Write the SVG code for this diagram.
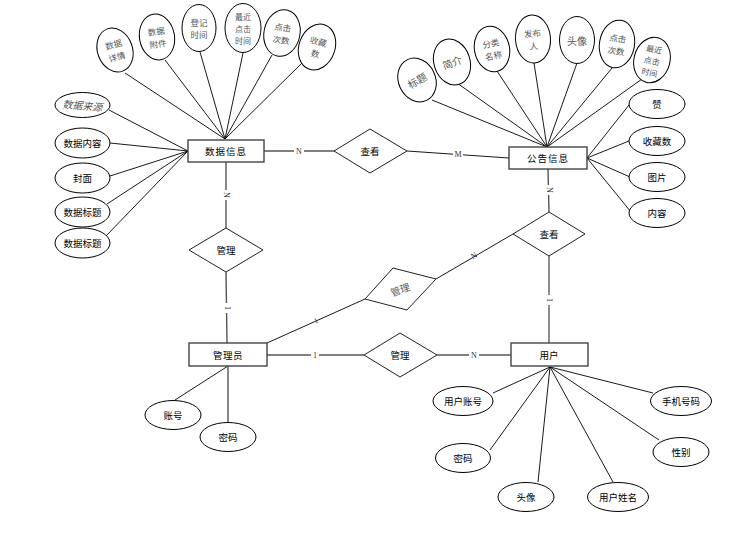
<svg xmlns="http://www.w3.org/2000/svg" width="745" height="541" viewBox="0 0 745 541">
<style>
.bg{fill:#fff}
.e{fill:#fff;stroke:#000;stroke-width:1}
.r{fill:#fff;stroke:#444;stroke-width:1.4}
.d{fill:#fff;stroke:#222;stroke-width:1}
.t{font-family:"Noto Sans CJK SC","Noto Sans",sans-serif;font-size:9.5px;fill:#000;text-anchor:middle;dominant-baseline:central}
.g{font-family:"Noto Sans CJK SC","Noto Sans",sans-serif;font-size:10px;fill:#555;text-anchor:middle;dominant-baseline:central}
.m{font-family:"Noto Sans CJK SC","Noto Sans",sans-serif;font-size:8.5px;fill:#555;text-anchor:middle;dominant-baseline:central}
.m3{font-family:"Noto Sans CJK SC","Noto Sans",sans-serif;font-size:8px;fill:#555;text-anchor:middle;dominant-baseline:central}
.l{stroke:#000;stroke-width:0.9;fill:none}
.rl{stroke:#555;stroke-width:1.4;fill:none}
.lb{font-family:"Liberation Serif",serif;font-size:8px;fill:#333;text-anchor:middle;dominant-baseline:central}
</style>
<rect class="bg" width="745" height="541"/>
<g id="connectors">
<line class="l" x1="125" y1="73" x2="225" y2="139"/>
<line class="l" x1="165" y1="60" x2="225" y2="139"/>
<line class="l" x1="200" y1="52" x2="225" y2="139"/>
<line class="l" x1="243" y1="53" x2="225" y2="139"/>
<line class="l" x1="272" y1="55" x2="225" y2="139"/>
<line class="l" x1="302" y1="63" x2="225" y2="139"/>
<line class="l" x1="109" y1="110" x2="188" y2="151"/>
<line class="l" x1="110" y1="143" x2="188" y2="151"/>
<line class="l" x1="110" y1="176" x2="188" y2="151"/>
<line class="l" x1="107" y1="204" x2="188" y2="151"/>
<line class="l" x1="106" y1="236" x2="188" y2="151"/>
<line class="l" x1="432" y1="100" x2="547" y2="147"/>
<line class="l" x1="457" y1="83" x2="547" y2="147"/>
<line class="l" x1="497" y1="71" x2="547" y2="147"/>
<line class="l" x1="534" y1="63" x2="547" y2="147"/>
<line class="l" x1="577" y1="63" x2="547" y2="147"/>
<line class="l" x1="612" y1="68" x2="547" y2="147"/>
<line class="l" x1="642" y1="79" x2="547" y2="147"/>
<line class="l" x1="629" y1="105" x2="587" y2="158"/>
<line class="l" x1="629" y1="141" x2="587" y2="158"/>
<line class="l" x1="630" y1="177" x2="587" y2="158"/>
<line class="l" x1="631" y1="212" x2="587" y2="158"/>
<line class="l" x1="228" y1="366" x2="175" y2="400"/>
<line class="rl" x1="228" y1="366" x2="228" y2="423"/>
<line class="l" x1="550" y1="367" x2="493" y2="393"/>
<line class="l" x1="550" y1="367" x2="490" y2="450"/>
<line class="l" x1="550" y1="367" x2="538" y2="482"/>
<line class="l" x1="550" y1="367" x2="613" y2="482"/>
<line class="l" x1="550" y1="367" x2="659" y2="440"/>
<line class="l" x1="550" y1="367" x2="653" y2="393"/>
<line class="rl" x1="264" y1="151" x2="334" y2="151"/>
<line class="l" x1="407" y1="151" x2="509" y2="158"/>
<line class="rl" x1="226" y1="162" x2="226" y2="228"/>
<line class="rl" x1="226" y1="272" x2="227" y2="343"/>
<line class="l" x1="267" y1="343" x2="365" y2="299"/>
<line class="l" x1="436" y1="279" x2="513" y2="234"/>
<line class="rl" x1="267" y1="355" x2="364" y2="355"/>
<line class="rl" x1="437" y1="355" x2="511" y2="355"/>
<line class="rl" x1="548" y1="169" x2="549" y2="212"/>
<line class="l" x1="549" y1="256" x2="549" y2="343"/>
<g fill="#fff" stroke="none">
<rect x="294" y="147" width="10" height="8"/>
<rect x="453" y="150" width="10" height="8"/>
<rect x="222" y="190" width="8" height="10"/>
<rect x="222" y="303" width="8" height="10"/>
<rect x="311" y="351" width="8" height="8"/>
<rect x="469" y="351" width="10" height="8"/>
<rect x="545" y="185" width="8" height="10"/>
<rect x="545" y="295" width="8" height="10"/>
</g>
<text class="lb" x="299" y="151">N</text>
<text class="lb" x="458" y="154">M</text>
<text class="lb" x="226" y="195" transform="rotate(90 226 195)">N</text>
<text class="lb" x="227" y="308" transform="rotate(90 227 308)">1</text>
<text class="lb" x="316" y="321" transform="rotate(-24 316 321)">1</text>
<text class="lb" x="474" y="256" transform="rotate(-30 474 256)">N</text>
<text class="lb" x="315" y="355">1</text>
<text class="lb" x="474" y="355">N</text>
<text class="lb" x="549" y="190" transform="rotate(90 549 190)">N</text>
<text class="lb" x="549" y="300" transform="rotate(90 549 300)">1</text>
</g>
<g id="data-info"><rect class="r" x="188" y="140" width="76" height="22"/><text class="t" x="226" y="151" letter-spacing="1">数据信息</text></g>
<g id="notice-info"><rect class="r" x="509" y="147" width="78" height="22"/><text class="t" x="548" y="158" letter-spacing="1">公告信息</text></g>
<g id="admin"><rect class="r" x="189" y="343" width="78" height="23"/><text class="t" x="228" y="355" letter-spacing="0.5">管理员</text></g>
<g id="user"><rect class="r" x="511" y="343" width="77" height="23"/><text class="t" x="549" y="355">用户</text></g>
<g id="rel-view-top"><polygon class="d" points="334,151 370,129 407,151 370,173"/><text class="t" x="370" y="151">查看</text></g>
<g id="rel-manage-left"><polygon class="d" points="189,250 226,228 263,250 226,272"/><text class="t" x="226" y="250">管理</text></g>
<g id="rel-manage-bottom"><polygon class="d" points="364,355 400,333 437,355 400,377"/><text class="t" x="400" y="355">管理</text></g>
<g id="rel-view-right"><polygon class="d" points="513,234 549,212 585,234 549,256"/><text class="t" x="549" y="234">查看</text></g>
<g id="rel-manage-tilt"><polygon class="d" points="365,299 393,268 436,279 407,310"/><text class="g" x="400" y="289" transform="rotate(-20 400 289)">管理</text></g>
<g id="attr-sjxq"><ellipse class="e" cx="115" cy="50" rx="17.5" ry="22.5" transform="rotate(-20 115 50)"/><text class="m" transform="rotate(-15 115 50)"><tspan x="115" y="43.7">数据</tspan><tspan x="115" y="56.3">详情</tspan></text></g>
<g id="attr-sjfj"><ellipse class="e" cx="157" cy="37" rx="17.5" ry="23" transform="rotate(-10 157 37)"/><text class="m" transform="rotate(-8 157 37)"><tspan x="157" y="30.7">数据</tspan><tspan x="157" y="43.3">附件</tspan></text></g>
<g id="attr-djsj"><ellipse class="e" cx="199" cy="28" rx="17" ry="23.5"/><text class="m"><tspan x="199" y="21.7">登记</tspan><tspan x="199" y="34.3">时间</tspan></text></g>
<g id="attr-zjdjsj"><ellipse class="e" cx="243" cy="28" rx="18" ry="24.5"/><text class="m3"><tspan x="243" y="16.2">最近</tspan><tspan x="243" y="28">点击</tspan><tspan x="243" y="39.8">时间</tspan></text></g>
<g id="attr-djcs"><ellipse class="e" cx="282" cy="33" rx="18" ry="23.5" transform="rotate(12 282 33)"/><text class="m" transform="rotate(8 282 33)"><tspan x="282" y="26.7">点击</tspan><tspan x="282" y="39.3">次数</tspan></text></g>
<g id="attr-scs"><ellipse class="e" cx="317" cy="47" rx="18" ry="23.5" transform="rotate(20 317 47)"/><text class="m" transform="rotate(15 317 47)"><tspan x="317" y="40.7">收藏</tspan><tspan x="317" y="53.3">数</tspan></text></g>
<g id="attr-sjly"><ellipse class="e" cx="82.5" cy="105" rx="27.5" ry="12.5"/><text class="g" x="82.5" y="105" font-style="italic" transform="rotate(5 82.5 105)">数据来源</text></g>
<g id="attr-sjnr"><ellipse class="e" cx="82.5" cy="143" rx="27.5" ry="15"/><text class="t" x="82.5" y="143">数据内容</text></g>
<g id="attr-fm"><ellipse class="e" cx="82.5" cy="178" rx="27.5" ry="15"/><text class="t" x="82.5" y="178">封面</text></g>
<g id="attr-sjbt1"><ellipse class="e" cx="82.5" cy="212" rx="27.5" ry="15"/><text class="t" x="82.5" y="212">数据标题</text></g>
<g id="attr-sjbt2"><ellipse class="e" cx="82.5" cy="243" rx="27.5" ry="15"/><text class="t" x="82.5" y="243">数据标题</text></g>
<g id="attr-bt"><ellipse class="e" cx="417" cy="80" rx="18.5" ry="22.5" transform="rotate(-25 417 80)"/><text class="g" x="417" y="80" transform="rotate(-30 417 80)">标题</text></g>
<g id="attr-jj"><ellipse class="e" cx="452" cy="62" rx="18" ry="23.5" transform="rotate(-18 452 62)"/><text class="g" x="452" y="62" transform="rotate(-20 452 62)">简介</text></g>
<g id="attr-flmc"><ellipse class="e" cx="492" cy="49" rx="17.5" ry="23" transform="rotate(-12 492 49)"/><text class="m" transform="rotate(-12 492 49)"><tspan x="492" y="42.7">分类</tspan><tspan x="492" y="55.3">名称</tspan></text></g>
<g id="attr-fbr"><ellipse class="e" cx="533" cy="39" rx="17.5" ry="24" transform="rotate(-4 533 39)"/><text class="m" transform="rotate(-5 533 39)"><tspan x="533" y="32.7">发布</tspan><tspan x="533" y="45.3">人</tspan></text></g>
<g id="attr-tx1"><ellipse class="e" cx="577" cy="40" rx="17.5" ry="23.5"/><text class="g" x="577" y="40">头像</text></g>
<g id="attr-djcs2"><ellipse class="e" cx="617" cy="44" rx="17.5" ry="24" transform="rotate(10 617 44)"/><text class="m" transform="rotate(8 617 44)"><tspan x="617" y="37.7">点击</tspan><tspan x="617" y="50.3">次数</tspan></text></g>
<g id="attr-zjdjsj2"><ellipse class="e" cx="652" cy="60" rx="18" ry="23" transform="rotate(15 652 60)"/><text class="m3" transform="rotate(12 652 60)"><tspan x="652" y="48.2">最近</tspan><tspan x="652" y="60">点击</tspan><tspan x="652" y="71.8">时间</tspan></text></g>
<g id="attr-z"><ellipse class="e" cx="657" cy="104" rx="28" ry="14.5"/><text class="t" x="657" y="104">赞</text></g>
<g id="attr-scs2"><ellipse class="e" cx="657" cy="141" rx="28" ry="14.5"/><text class="t" x="657" y="141">收藏数</text></g>
<g id="attr-tp"><ellipse class="e" cx="657" cy="177" rx="28" ry="14.5"/><text class="t" x="657" y="177">图片</text></g>
<g id="attr-nr"><ellipse class="e" cx="657" cy="213" rx="28" ry="14.5"/><text class="t" x="657" y="213">内容</text></g>
<g id="attr-zh"><ellipse class="e" cx="173" cy="415" rx="28" ry="14.5"/><text class="t" x="173" y="415">账号</text></g>
<g id="attr-mm1"><ellipse class="e" cx="228" cy="437" rx="28" ry="14.5"/><text class="t" x="228" y="437">密码</text></g>
<g id="attr-yhzh"><ellipse class="e" cx="463" cy="401" rx="30" ry="14.5"/><text class="t" x="463" y="401">用户账号</text></g>
<g id="attr-mm2"><ellipse class="e" cx="463" cy="458" rx="27.5" ry="14.5"/><text class="t" x="463" y="458">密码</text></g>
<g id="attr-tx2"><ellipse class="e" cx="526" cy="497" rx="28" ry="14.5"/><text class="t" x="526" y="497">头像</text></g>
<g id="attr-yhxm"><ellipse class="e" cx="618" cy="497" rx="30.5" ry="14.5"/><text class="t" x="618" y="497">用户姓名</text></g>
<g id="attr-xb"><ellipse class="e" cx="681" cy="452" rx="28" ry="14.5"/><text class="t" x="681" y="452">性别</text></g>
<g id="attr-sjhm"><ellipse class="e" cx="681" cy="401" rx="30.5" ry="14.5"/><text class="t" x="681" y="401">手机号码</text></g>
</svg>
